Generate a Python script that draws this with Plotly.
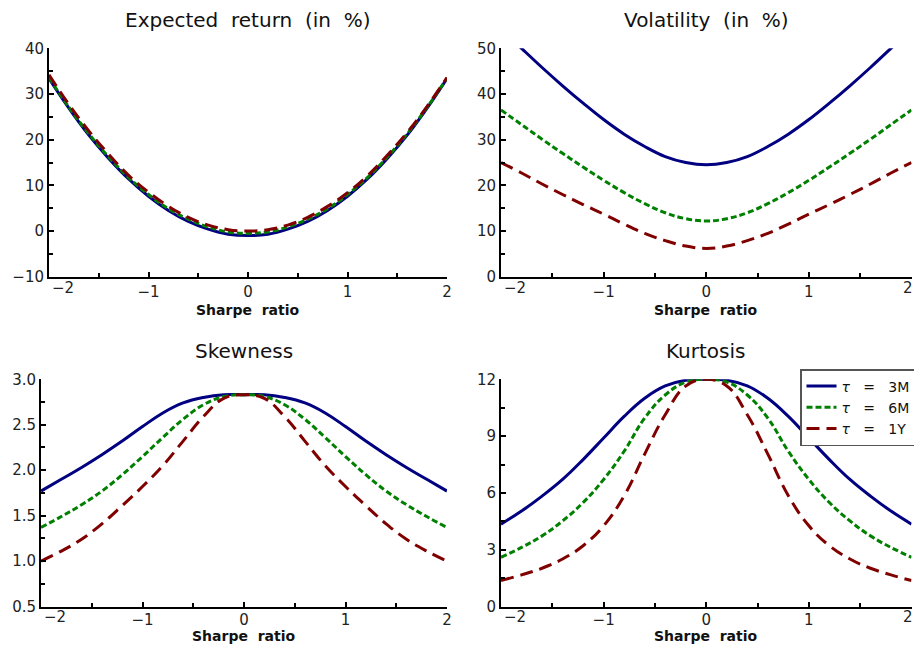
import plotly.graph_objects as go

# Sharpe ratio grid
sharpe = [-2.0, -1.8, -1.6, -1.4, -1.2, -1.0, -0.8, -0.6, -0.4, -0.2, 0.0,
          0.2, 0.4, 0.6, 0.8, 1.0, 1.2, 1.4, 1.6, 1.8, 2.0]

horizons = ["3M", "6M", "1Y"]
x_ticks = [-2, -1, 0, 1, 2]
x_ticktext = ["−2", "−1", "0", "1", "2"]

# Expected return (in %)
ret_3m = [33.4, 26.9, 21.0, 15.9, 11.4, 7.6, 4.5, 2.1, 0.4, -0.7, -1.0,
          -0.7, 0.4, 2.1, 4.5, 7.6, 11.4, 15.9, 21.0, 26.9, 33.4]
ret_6m = [33.6, 27.1, 21.3, 16.2, 11.7, 8.0, 4.9, 2.6, 0.9, -0.2, -0.5,
          -0.2, 0.9, 2.6, 4.9, 8.0, 11.7, 16.2, 21.3, 27.1, 33.5]
ret_1y = [34.2, 27.7, 21.9, 16.8, 12.2, 8.5, 5.4, 3.0, 1.3, 0.3, 0.0,
          0.3, 1.3, 3.0, 5.4, 8.4, 12.1, 16.6, 21.6, 27.3, 33.6]

# Volatility (in %)
vol_3m = [54.3, 50.0, 45.8, 41.8, 38.0, 34.4, 31.2, 28.5, 26.3, 25.0, 24.5,
          25.0, 26.3, 28.5, 31.2, 34.4, 38.0, 41.8, 45.8, 50.0, 54.3]
vol_6m = [36.5, 33.3, 30.1, 27.0, 24.0, 21.1, 18.4, 16.0, 14.0, 12.7, 12.2,
          12.7, 14.0, 16.0, 18.4, 21.1, 24.0, 27.0, 30.1, 33.3, 36.5]
vol_1y = [25.0, 22.7, 20.3, 18.0, 15.8, 13.7, 11.5, 9.5, 7.9, 6.7, 6.2,
          6.7, 7.9, 9.5, 11.5, 13.7, 15.8, 18.0, 20.3, 22.7, 25.0]

# Skewness
skew_3m = [1.77, 1.90, 2.03, 2.17, 2.32, 2.48, 2.63, 2.74, 2.80, 2.83, 2.83,
           2.83, 2.80, 2.74, 2.63, 2.48, 2.32, 2.17, 2.03, 1.90, 1.77]
skew_6m = [1.37, 1.49, 1.62, 1.77, 1.95, 2.15, 2.36, 2.56, 2.72, 2.81, 2.83,
           2.81, 2.72, 2.56, 2.36, 2.15, 1.95, 1.77, 1.62, 1.49, 1.37]
skew_1y = [1.00, 1.11, 1.24, 1.41, 1.61, 1.82, 2.05, 2.32, 2.59, 2.79, 2.83,
           2.79, 2.59, 2.32, 2.05, 1.82, 1.61, 1.41, 1.24, 1.11, 1.00]

# Kurtosis
kurt_3m = [4.35, 5.04, 5.83, 6.71, 7.76, 8.90, 10.04, 11.00, 11.65, 11.95, 12.0,
           11.95, 11.65, 11.00, 10.04, 8.90, 7.76, 6.71, 5.83, 5.04, 4.35]
kurt_6m = [2.60, 3.12, 3.73, 4.52, 5.49, 6.71, 8.20, 9.95, 11.17, 11.85, 12.0,
           11.85, 11.17, 9.95, 8.20, 6.71, 5.49, 4.52, 3.73, 3.12, 2.60]
kurt_1y = [1.37, 1.67, 2.02, 2.51, 3.21, 4.26, 5.85, 8.05, 10.13, 11.65, 12.0,
           11.65, 10.13, 8.05, 5.85, 4.26, 3.21, 2.51, 2.02, 1.67, 1.37]

OFF = 8  # page body margin around the figure
W, H = 922 - 2 * OFF, 653 - 2 * OFF  # figure fits inside the window
FONT = "DejaVu Sans"
SP = "\u00a0"
colors = ["#000080", "#008000", "#800000"]
dashes = ["solid", "6px,3px", "13px,7px"]


def px_x(v):
    return (v - OFF) / W


def px_y(v):
    return 1 - (v - OFF) / H


# panel boxes in screen pixels: (left, right, top, bottom), plus where the
# x tick labels and the x title sit below each row
panels = [
    dict(box=(49, 447, 48.3, 276.7), lab=288, xt=310, shift=0, title="Expected return (in %)",
         series=[ret_3m, ret_6m, ret_1y], yrange=[-10, 40], dtick=10, minor=5, fmt=""),
    dict(box=(501, 911.5, 48.3, 276.7), lab=288, xt=310, shift=0, title="Volatility (in %)",
         series=[vol_3m, vol_6m, vol_1y], yrange=[0, 50], dtick=10, minor=5, fmt=""),
    dict(box=(41, 447, 379.3, 606.5), lab=616.5, xt=635.5, shift=-2, title="Skewness",
         series=[skew_3m, skew_6m, skew_1y], yrange=[0.5, 3.0], dtick=0.5, minor=0.25, fmt=".1f"),
    dict(box=(501, 911.5, 379.3, 606.5), lab=616.5, xt=635.5, shift=-2, title="Kurtosis",
         series=[kurt_3m, kurt_6m, kurt_1y], yrange=[0, 12], dtick=3, minor=1.5, fmt=""),
]

fig = go.Figure()
annotations = []
layout_axes = {}
tick_font = dict(family=FONT, size=15, color="#222")

for i, p in enumerate(panels):
    n = "" if i == 0 else str(i + 1)
    left, right, top, bottom = p["box"]
    at_edge = i % 2 == 1
    for j, vals in enumerate(p["series"]):
        fig.add_trace(go.Scatter(
            x=sharpe, y=vals, mode="lines",
            line=dict(color=colors[j], width=3, dash=dashes[j], shape="spline", smoothing=1.2),
            name=f"<i>τ</i>{SP * 3}={SP * 3}{horizons[j]}",
            showlegend=(i == 3),
            xaxis="x" + n, yaxis="y" + n,
        ))
    common = dict(showgrid=False, zeroline=False, showline=True, linecolor="black",
                  linewidth=2, ticks="inside", ticklen=5, tickwidth=1.5, tickcolor="black",
                  automargin=False, tickfont=tick_font)
    # end labels sit beside the corners (annotations below), like the original
    ticktext = [""] + x_ticktext[1:-1] + ["" if at_edge else x_ticktext[-1]]
    layout_axes["xaxis" + n] = dict(
        common, domain=[px_x(left), px_x(right)], range=[-2, 2],
        tickvals=x_ticks, ticktext=ticktext, anchor="y" + n, ticklabelstandoff=p["shift"],
        minor=dict(dtick=0.5, ticks="inside", ticklen=4, tickcolor="black", tickwidth=1.5))
    layout_axes["yaxis" + n] = dict(
        common, domain=[px_y(bottom), px_y(top)], range=p["yrange"], dtick=p["dtick"],
        tick0=p["yrange"][0], tickformat=p["fmt"], anchor="x" + n,
        minor=dict(dtick=p["minor"], ticks="inside", ticklen=4, tickcolor="black", tickwidth=1.5))
    annotations.append(dict(text=x_ticktext[0], x=px_x(left + 1), y=px_y(p["lab"]),
                            xref="paper", yref="paper", showarrow=False,
                            xanchor="left", yanchor="middle", font=tick_font))
    if at_edge:
        annotations.append(dict(text=x_ticktext[-1], x=px_x(right + 3), y=px_y(p["lab"]),
                                xref="paper", yref="paper", showarrow=False,
                                xanchor="right", yanchor="middle", font=tick_font))
    cx = (left + right) / 2 if i != 0 else 247
    # panel title, with the wide word spacing of the original
    annotations.append(dict(text=p["title"].replace(" ", SP * 2), x=px_x(cx), y=px_y(top - 28),
                            xref="paper", yref="paper",
                            showarrow=False, xanchor="center", yanchor="middle",
                            font=dict(family=FONT, size=20, color="#111")))
    # x axis title
    annotations.append(dict(text=f"<b>Sharpe{SP * 2}ratio</b>", x=px_x((left + right) / 2),
                            y=px_y(p["xt"]),
                            xref="paper", yref="paper", showarrow=False,
                            xanchor="center", yanchor="middle",
                            font=dict(family=FONT, size=14, color="#111")))

fig.update_layout(
    width=W, height=H,
    margin=dict(l=0, r=0, t=0, b=0, autoexpand=False),
    paper_bgcolor="white", plot_bgcolor="white",
    annotations=annotations,
    legend=dict(x=px_x(800), y=px_y(369), xanchor="left", yanchor="top",
                bgcolor="white", bordercolor="#555", borderwidth=1.5,
                font=dict(family=FONT, size=14, color="#111"), tracegroupgap=0),
    **layout_axes,
)

fig.write_html("out.html")
